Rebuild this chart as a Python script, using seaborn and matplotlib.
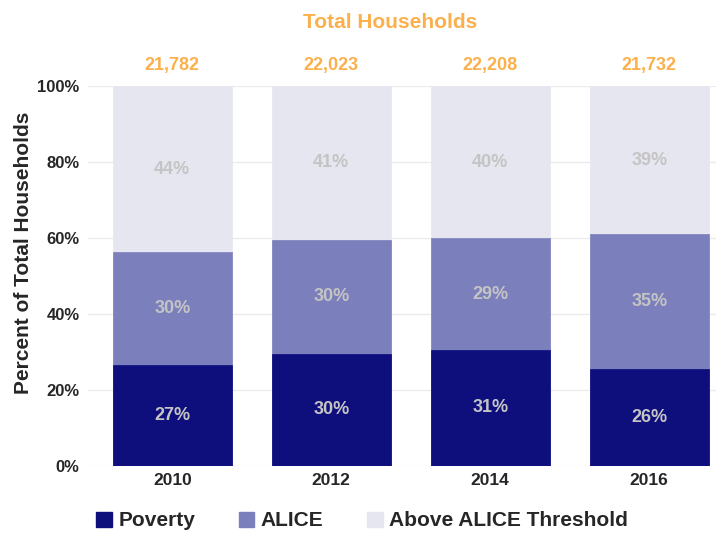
import matplotlib
matplotlib.use("Agg")
import matplotlib.pyplot as plt
import seaborn as sns
import pandas as pd
import numpy as np
from matplotlib.patches import Patch

years = ["2010", "2012", "2014", "2016"]
totals = ["21,782", "22,023", "22,208", "21,732"]
poverty = [26.6, 29.5, 30.6, 25.6]
alice = [29.7, 30.0, 29.3, 35.4]
above = [43.7, 40.5, 40.1, 39.0]
poverty_lbl = ["27%", "30%", "31%", "26%"]
alice_lbl = ["30%", "30%", "29%", "35%"]
above_lbl = ["44%", "41%", "40%", "39%"]
series = ["Poverty", "ALICE", "Above ALICE Threshold"]
colors = ["#0e0e7c", "#7b7fbb", "#e6e6f1"]

sns.set_style("white")
plt.rcParams['font.family'] = ['Liberation Sans', 'DejaVu Sans']

df = pd.DataFrame({"year": years, "poverty": poverty, "alice": alice, "above": above})
df["c1"] = df["poverty"]
df["c2"] = df["poverty"] + df["alice"]
df["c3"] = df["c2"] + df["above"]

fig = plt.figure(figsize=(7.16, 5.34), dpi=100)
ax = fig.add_axes([88/716, 1-466/534, 1-88/716, 380/534])

for col, c in zip(["c3", "c2", "c1"], colors[::-1]):
    sns.barplot(data=df, x="year", y=col, color=c, width=0.75, ax=ax,
                saturation=1, zorder=2, edgecolor=c, linewidth=0.5)

ax.set_ylim(0, 100)
ax.set_xlim(-0.53, 3.42)
ax.set_yticks([0, 20, 40, 60, 80, 100])
ax.set_yticklabels([f"{v}%" for v in [0, 20, 40, 60, 80, 100]], fontsize=12, fontweight="bold")
ax.tick_params(axis="y", length=0, pad=6)
ax.tick_params(axis="x", length=0, pad=5)
ax.set_xticks(range(len(years)))
ax.set_xticklabels(years, fontsize=12.5, fontweight="bold")
ax.grid(axis="y", color="#ebebeb", linewidth=1, zorder=0)
for s in ax.spines.values():
    s.set_visible(False)
ax.set_xlabel("")
ax.set_ylabel("Percent of Total Households", fontsize=15, fontweight="bold")
ax.yaxis.set_label_coords(-0.087, 0.56)

lblc = "#c4c4c4"
for i in range(len(years)):
    ax.text(i, df["c1"][i] / 2, poverty_lbl[i], ha="center", va="center", color=lblc, fontsize=13, fontweight="bold", zorder=5)
    ax.text(i, (df["c1"][i] + df["c2"][i]) / 2, alice_lbl[i], ha="center", va="center", color=lblc, fontsize=13, fontweight="bold", zorder=5)
    ax.text(i, (df["c2"][i] + 100) / 2, above_lbl[i], ha="center", va="center", color=lblc, fontsize=13, fontweight="bold", zorder=5)
    ax.text(i, 105.5, totals[i], ha="center", va="center", color="#fbb04c", fontsize=13, fontweight="bold", clip_on=False)

fig.text(390/716, 1-22/534, "Total Households", ha="center", va="center", color="#fbb04c", fontsize=15, fontweight="bold")

handles = [Patch(facecolor=c, edgecolor=c) for c in colors]
fig.legend(handles, series, loc="center", bbox_to_anchor=(362/716, 1-521/534), ncol=3, frameon=False,
           prop={"size": 15, "weight": "bold"}, handlelength=0.75, handleheight=0.75, columnspacing=2.1, handletextpad=0.3)

fig.savefig("out.png", dpi=100)
